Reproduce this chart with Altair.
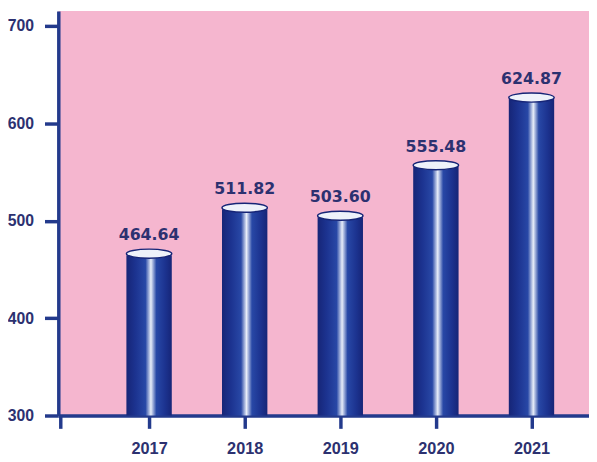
import altair as alt
import pandas as pd

years = [2017, 2018, 2019, 2020, 2021]
values = [464.64, 511.82, 503.60, 555.48, 624.87]
labels = ["464.64", "511.82", "503.60", "555.48", "624.87"]

df = pd.DataFrame({"year": years, "value": values, "label": labels})

NAVY = "#233a8c"
TEXT = "#2c3170"
AXFONT = "Liberation Sans Narrow, Liberation Sans, Arial"

xscale = alt.Scale(domain=[2016.102, 2021.55], nice=False, zero=False)
yscale = alt.Scale(domain=[300, 715.2], nice=False, zero=False)

xaxis = alt.Axis(
    values=[2016.07] + years, format="d",
    labelExpr="datum.value < 2016.5 ? '' : datum.label",
    domainColor=NAVY, domainWidth=3.5, tickColor=NAVY, tickWidth=3.5, tickSize=13,
    labelFont=AXFONT, labelFontSize=16.5, labelFontWeight="bold", labelColor=TEXT,
    labelPadding=13, grid=False, title=None, labelFlush=False,
)
yaxis = alt.Axis(
    values=[300, 400, 500, 600, 700],
    domainColor=NAVY, domainWidth=3.5, tickColor=NAVY, tickWidth=3.5, tickSize=14,
    labelFont=AXFONT, labelFontSize=16, labelFontWeight="bold", labelColor=TEXT,
    labelPadding=11, grid=False, title=None, labelFlush=False,
)

grad = alt.Gradient(
    gradient="linear", x1=0, x2=1, y1=0, y2=0,
    stops=[
        alt.GradientStop(color="#162577", offset=0),
        alt.GradientStop(color="#1c3390", offset=0.2),
        alt.GradientStop(color="#2848a6", offset=0.42),
        alt.GradientStop(color="#e8eef9", offset=0.54),
        alt.GradientStop(color="#2848a6", offset=0.66),
        alt.GradientStop(color="#1c3390", offset=0.85),
        alt.GradientStop(color="#162577", offset=1),
    ],
)

base = alt.Chart(df)

bars = base.mark_bar(fill=grad, size=46).encode(
    x=alt.X("year:Q", scale=xscale, axis=xaxis),
    y=alt.Y("value:Q", scale=yscale, axis=yaxis),
    y2=alt.datum(300),
)

ellipse = "M-1,0 A1,0.2 0 1,0 1,0 A1,0.2 0 1,0 -1,0 Z"
tops = base.mark_point(
    shape=ellipse, size=2116, filled=True, fill="#eef2fa", stroke="#162577",
    strokeWidth=1.5, opacity=1, yOffset=-1.5,
).encode(
    x=alt.X("year:Q", scale=xscale),
    y=alt.Y("value:Q", scale=yscale),
)

text = base.mark_text(
    font="DejaVu Sans", fontSize=16, fontWeight="bold", color=TEXT,
    baseline="alphabetic", dy=-15,
).encode(
    x=alt.X("year:Q", scale=xscale),
    y=alt.Y("value:Q", scale=yscale),
    text="label:N",
)

chart = alt.layer(bars, tops, text).properties(
    width=538, height=410,
    autosize=alt.AutoSizeParams(type="none"),
    padding={"left": 51, "top": 0, "right": 0, "bottom": 44},
    background="white",
).configure_view(fill="#f5b6cf", stroke=None)

chart.save("out.html", embed_options={"renderer": "svg", "actions": False})
